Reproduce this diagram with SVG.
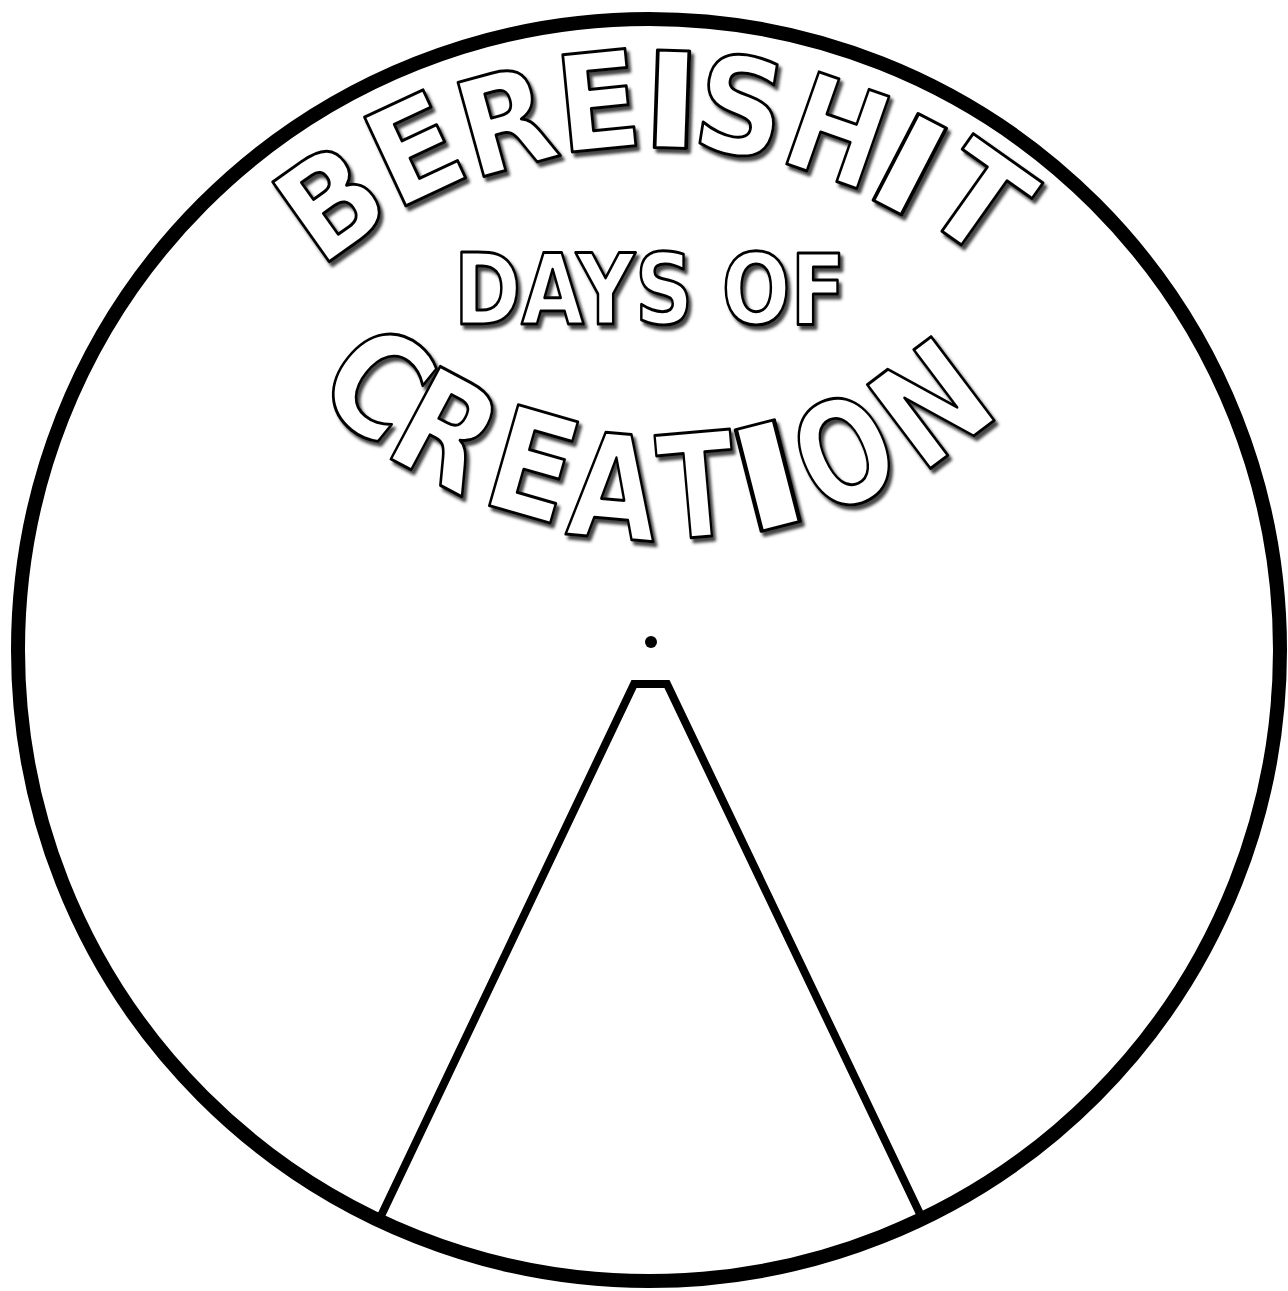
<svg xmlns="http://www.w3.org/2000/svg" width="1288" height="1291" viewBox="0 0 1288 1291">
  <defs>
    <filter id="shadow" x="-20%" y="-20%" width="150%" height="150%">
      <feDropShadow dx="3" dy="4" stdDeviation="1.6" flood-color="#333" flood-opacity="0.9"/>
    </filter>
  </defs>
  <style>
    .rim { fill: #ffffff; stroke: #000; stroke-width: 14; }
    .line { fill: none; stroke: #000; stroke-width: 8; stroke-linejoin: miter; }
    .title { font-family: "DejaVu Sans", "Liberation Sans", sans-serif; font-weight: bold; fill: #ffffff; stroke: #000; stroke-width: 3; stroke-linejoin: round; text-anchor: middle; }
    .big { font-size: 134px; }
    .huge { font-size: 144px; }
    .shadowed { filter: url(#shadow); }
  </style>
  <rect width="1288" height="1291" fill="#ffffff"/>
  <g id="rim">
    <circle class="rim" cx="649" cy="650" r="631"/>
  </g>
  <g id="connectors">
    <path id="wedge" class="line" d="M 380 1218 L 634 684 L 667 684 L 922 1218"/>
  </g>
  <g id="pin">
    <circle cx="651" cy="642" r="6" fill="#000"/>
  </g>
  <g id="title-bereishit" class="shadowed">
    <text class="title big" transform="translate(330,201) rotate(-35.4) scale(0.92,1)" y="49">B</text>
    <text class="title big" transform="translate(414,148) rotate(-25) scale(0.95,1)" y="49">E</text>
    <text class="title big" transform="translate(505,120) rotate(-15.4) scale(0.9,1)" y="49">R</text>
    <text class="title big" transform="translate(598,100) rotate(-5.6) scale(0.92,1)" y="49">E</text>
    <text class="title big" transform="translate(672,99) rotate(1.9) scale(1.25,1)" y="49">I</text>
    <text class="title big" transform="translate(741,105) rotate(9) scale(0.92,1)" y="49">S</text>
    <text class="title big" transform="translate(838,130) rotate(19.3) scale(0.85,1)" y="49">H</text>
    <text class="title big" transform="translate(910,164) rotate(27.4) scale(1.25,1)" y="49">I</text>
    <text class="title big" transform="translate(980,198) rotate(35.3) scale(0.95,1)" y="49">T</text>
  </g>
  <g id="title-days" class="shadowed">
    <text class="title" x="650" y="324" font-size="98" textLength="392" lengthAdjust="spacingAndGlyphs">DAYS OF</text>
  </g>
  <g id="title-creation" class="shadowed">
    <text class="title huge" transform="translate(378,382) rotate(38.8) scale(0.85,1)" y="52">C</text>
    <text class="title huge" transform="translate(447,430) rotate(28) scale(0.85,1)" y="52">R</text>
    <text class="title huge" transform="translate(533,464) rotate(16) scale(0.85,1)" y="52">E</text>
    <text class="title huge" transform="translate(614,486) rotate(5) scale(0.8,1)" y="52">A</text>
    <text class="title huge" transform="translate(697,485) rotate(-5) scale(0.78,1)" y="52">T</text>
    <text class="title huge" transform="translate(768,476) rotate(-14.4) scale(1.45,1)" y="52">I</text>
    <text class="title huge" transform="translate(844,452) rotate(-24.5) scale(0.76,1)" y="52">O</text>
    <text class="title huge" transform="translate(931,403) rotate(-37) scale(0.85,1)" y="52">N</text>
  </g>
</svg>
